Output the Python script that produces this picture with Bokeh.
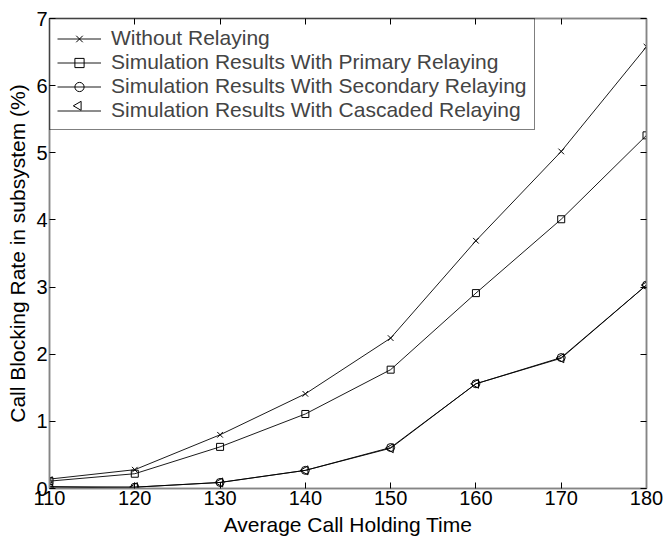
from bokeh.plotting import figure
from bokeh.models import LinearAxis, FixedTicker, Range1d, Legend, LegendItem
from bokeh.embed import file_html
from bokeh.resources import INLINE
import math

holding_time = [110, 120, 130, 140, 150, 160, 170, 180]
without_relaying = [0.14, 0.28, 0.80, 1.41, 2.24, 3.69, 5.02, 6.58]
primary_relaying = [0.11, 0.22, 0.62, 1.11, 1.77, 2.91, 4.01, 5.26]
secondary_relaying = [0.01, 0.02, 0.09, 0.27, 0.61, 1.56, 1.95, 3.03]
cascaded_relaying = [0.03, 0.02, 0.09, 0.27, 0.60, 1.56, 1.94, 3.03]
x_ticks = [110, 120, 130, 140, 150, 160, 170, 180]
y_ticks = [0, 1, 2, 3, 4, 5, 6, 7]
series_labels = ["Without Relaying",
                 "Simulation Results With Primary Relaying",
                 "Simulation Results With Secondary Relaying",
                 "Simulation Results With Cascaded Relaying"]

FONT = "Liberation Sans"
FRAME_GRAY = "#858585"
W, H = 666, 538
BL, BR, BT, BB = 49, 20, 18, 49

p = figure(width=W, height=H, output_backend="svg", toolbar_location=None,
           x_range=Range1d(110, 180), y_range=Range1d(0, 7),
           min_border_left=BL, min_border_right=BR, min_border_top=BT,
           min_border_bottom=BB, background_fill_color="white",
           border_fill_color="white")
p.xgrid.visible = False
p.ygrid.visible = False
p.outline_line_color = FRAME_GRAY
p.outline_line_width = 1.5

for ax in (p.xaxis[0], p.yaxis[0]):
    ax.major_tick_in = 6
    ax.major_tick_out = 0
    ax.minor_tick_in = 0
    ax.minor_tick_out = 0
    ax.axis_line_color = FRAME_GRAY
    ax.axis_line_width = 1.5
    ax.major_tick_line_color = "black"
    ax.major_label_text_font = FONT
    ax.major_label_text_font_size = "20px"
    ax.major_label_text_color = "black"
    ax.axis_label_text_font = FONT
    ax.axis_label_text_font_size = "21px"
    ax.axis_label_text_font_style = "normal"
    ax.axis_label_text_color = "black"

p.xaxis[0].ticker = FixedTicker(ticks=x_ticks)
p.yaxis[0].ticker = FixedTicker(ticks=y_ticks)
p.xaxis[0].major_label_standoff = 2
p.yaxis[0].major_label_standoff = 2
p.xaxis[0].axis_label = "Average Call Holding Time"
p.yaxis[0].axis_label = "Call Blocking Rate in subsystem (%)"
p.xaxis[0].axis_label_standoff = 5
p.yaxis[0].axis_label_standoff = 4

# Mirror ticks on top and right (inside, no labels)
top = LinearAxis(ticker=FixedTicker(ticks=x_ticks))
right = LinearAxis(ticker=FixedTicker(ticks=y_ticks))
top.major_label_overrides = {t: "" for t in x_ticks}
right.major_label_overrides = {t: "" for t in y_ticks}
for ax in (top, right):
    ax.major_tick_in = 6
    ax.major_tick_out = 0
    ax.minor_tick_in = 0
    ax.minor_tick_out = 0
    ax.axis_line_color = FRAME_GRAY
    ax.axis_line_width = 1.5
    ax.major_tick_line_color = "black"
    ax.major_label_standoff = 0
p.add_layout(top, "above")
p.add_layout(right, "right")

lc = "black"
lw = 0.9
items = []

r1 = p.line(holding_time, without_relaying, line_color=lc, line_width=lw)
m1 = p.scatter(holding_time, without_relaying, marker="x", size=8, line_color=lc)
items.append(LegendItem(label=series_labels[0], renderers=[r1, m1]))

r2 = p.line(holding_time, primary_relaying, line_color=lc, line_width=lw)
m2 = p.scatter(holding_time, primary_relaying, marker="square", size=7,
               line_color=lc, fill_alpha=0)
items.append(LegendItem(label=series_labels[1], renderers=[r2, m2]))

r3 = p.line(holding_time, secondary_relaying, line_color=lc, line_width=lw)
m3 = p.scatter(holding_time, secondary_relaying, marker="circle", size=8,
               line_color=lc, fill_alpha=0)
items.append(LegendItem(label=series_labels[2], renderers=[r3, m3]))

r4 = p.line(holding_time, cascaded_relaying, line_color=lc, line_width=lw)
m4 = p.scatter(holding_time, cascaded_relaying, marker="triangle", size=9,
               angle=math.pi / 2, line_color=lc, fill_alpha=0)
# legend key: line only; the left-pointing triangle is drawn below
items.append(LegendItem(label=series_labels[3], renderers=[r4]))

PAD, ROW, GW = 7, 23, 44
legend = Legend(items=items, location="top_left")
legend.margin = 0
legend.padding = PAD
legend.spacing = 0
legend.label_text_font = FONT
legend.label_text_font_size = "21px"
legend.label_height = ROW
legend.glyph_height = ROW
legend.glyph_width = GW
legend.label_standoff = 10
legend.border_line_color = "black"
legend.border_line_width = 1
legend.background_fill_alpha = 0   # no data passes under the legend box
p.add_layout(legend)

# Pixel coordinate system over the plot frame (for the legend key marker only)
frame_w = W - BL - BR
frame_h = H - BT - BB
p.extra_x_ranges = {"px": Range1d(start=0, end=frame_w)}
p.extra_y_ranges = {"px": Range1d(start=0, end=frame_h)}
key_x = [PAD + GW / 2]
key_y = [frame_h - (PAD + 3 * ROW + ROW / 2)]
key = p.scatter(x=key_x, y=key_y, x_range_name="px", y_range_name="px",
                marker="triangle", size=9, angle=math.pi / 2,
                line_color=lc, fill_alpha=0)

open("out.html", "w").write(file_html(p, INLINE))
